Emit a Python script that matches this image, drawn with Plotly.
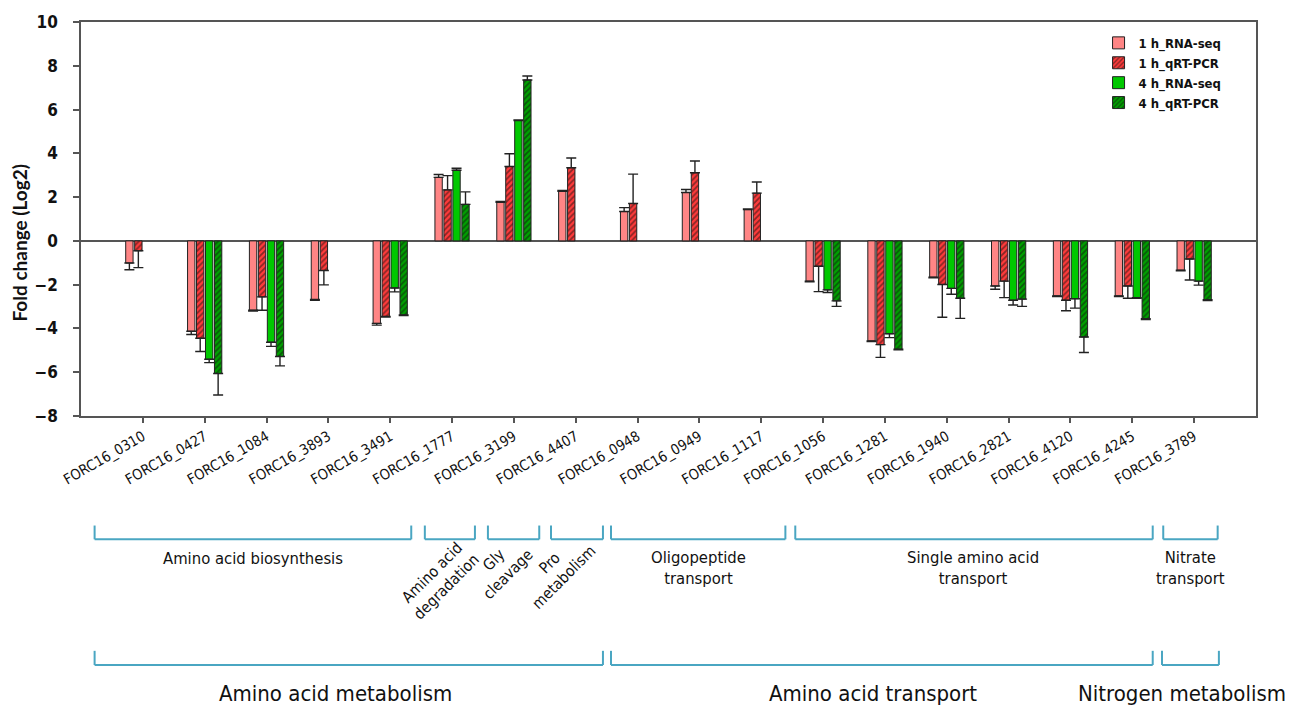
import plotly.graph_objects as go

categories = ["FORC16_0310", "FORC16_0427", "FORC16_1084", "FORC16_3893", "FORC16_3491",
              "FORC16_1777", "FORC16_3199", "FORC16_4407", "FORC16_0948", "FORC16_0949",
              "FORC16_1117", "FORC16_1056", "FORC16_1281", "FORC16_1940", "FORC16_2821",
              "FORC16_4120", "FORC16_4245", "FORC16_3789"]

rna_1h = [-1.01, -4.13, -3.17, -2.68, -3.77, 2.90, 1.76, 2.27, 1.34, 2.21, 1.43,
          -1.84, -4.57, -1.66, -2.06, -2.51, -2.51, -1.34]
rna_1h_err = [0.31, 0.15, 0.03, 0.03, 0.08, 0.13, 0.04, 0.03, 0.18, 0.14, 0.03,
              0.03, 0.03, 0.03, 0.15, 0.03, 0.03, 0.03]
qpcr_1h = [-0.45, -4.45, -2.56, -1.35, -3.45, 2.33, 3.40, 3.34, 1.71, 3.11, 2.18,
           -1.16, -4.74, -1.99, -1.84, -2.71, -2.06, -0.83]
qpcr_1h_err = [0.77, 0.60, 0.61, 0.66, 0.03, 0.65, 0.58, 0.45, 1.34, 0.54, 0.51,
               1.16, 0.58, 1.50, 0.75, 0.48, 0.56, 0.96]
rna_4h = [None, -5.41, -4.63, None, -2.15, 3.23, 5.50, None, None, None, None,
          -2.24, -4.24, -2.17, -2.71, -2.64, -2.59, -1.84]
rna_4h_err = [None, 0.15, 0.19, None, 0.18, 0.09, 0.03, None, None, None, None,
              0.12, 0.18, 0.27, 0.22, 0.43, 0.03, 0.18]
qpcr_4h = [None, -6.06, -5.28, None, -3.38, 1.67, 7.35, None, None, None, None,
           -2.74, -4.95, -2.62, -2.66, -4.39, -3.56, -2.69]
qpcr_4h_err = [None, 0.98, 0.43, None, 0.03, 0.57, 0.18, None, None, None, None,
               0.25, 0.03, 0.92, 0.33, 0.71, 0.03, 0.03]

series_names = ["1 h_RNA-seq", "1 h_qRT-PCR", "4 h_RNA-seq", "4 h_qRT-PCR"]

# functional sub-groups: (label, x-start, x-end in category units)
sub_groups = [
    ("Amino acid biosynthesis", -0.78, 4.34),
    ("Amino acid<br>degradation", 4.56, 5.37),
    ("Gly<br>cleavage", 5.58, 6.41),
    ("Pro<br>metabolism", 6.60, 7.44),
    ("Oligopeptide<br>transport", 7.57, 10.39),
    ("Single amino acid<br>transport", 10.55, 16.33),
    ("Nitrate<br>transport", 16.50, 17.38),
]
main_groups = [
    ("Amino acid metabolism", -0.78, 7.44),
    ("Amino acid transport", 7.57, 16.33),
    ("Nitrogen metabolism", 16.48, 17.40),
]

FONT = "DejaVu Sans Condensed, DejaVu Sans, sans-serif"


def err_arrays(vals, errs):
    up, down = [], []
    for v, e in zip(vals, errs):
        if v is None:
            up.append(None); down.append(None)
        elif v >= 0:
            up.append(e); down.append(0)
        else:
            up.append(0); down.append(e)
    return up, down


fig = go.Figure()
styles = [
    dict(color="#FF8585", pattern=None),
    dict(color="#FF3B3B", pattern=dict(shape="/", fgcolor="#111111", bgcolor="#FF3B3B",
                                       fillmode="overlay", size=4, solidity=0.45)),
    dict(color="#00C800", pattern=None),
    dict(color="#00A000", pattern=dict(shape="/", fgcolor="#111111", bgcolor="#00A000",
                                       fillmode="overlay", size=4, solidity=0.45)),
]
for name, vals, errs, st in zip(series_names,
                                [rna_1h, qpcr_1h, rna_4h, qpcr_4h],
                                [rna_1h_err, qpcr_1h_err, rna_4h_err, qpcr_4h_err],
                                styles):
    up, down = err_arrays(vals, errs)
    marker = dict(color=st["color"], line=dict(color="#222222", width=1))
    if st["pattern"]:
        marker["pattern"] = st["pattern"]
    fig.add_trace(go.Bar(
        x=categories, y=vals, name=name, marker=marker,
        error_y=dict(type="data", symmetric=False, array=up, arrayminus=down,
                     color="#222222", thickness=1.4, width=5),
    ))

shapes = []
annotations = []
row1_top, row1_bot = -0.278, -0.313
row2_top, row2_bot = -0.596, -0.632
bracket_color = "#4AA6C2"


def bracket(x0, x1, ytop, ybot):
    return [
        dict(type="line", xref="x", yref="paper", x0=x0, x1=x1, y0=ybot, y1=ybot,
             line=dict(color=bracket_color, width=2)),
        dict(type="line", xref="x", yref="paper", x0=x0, x1=x0, y0=ybot, y1=ytop,
             line=dict(color=bracket_color, width=2)),
        dict(type="line", xref="x", yref="paper", x0=x1, x1=x1, y0=ybot, y1=ytop,
             line=dict(color=bracket_color, width=2)),
    ]


for label, x0, x1 in sub_groups:
    shapes += bracket(x0, x1, row1_top, row1_bot)
for label, x0, x1 in main_groups:
    shapes += bracket(x0, x1, row2_top, row2_bot)

# sub-group label placement (x in category units, y in paper, angle, size)
label_pos = {
    "Amino acid biosynthesis": (1.78, -0.361, 0, 16.5),
    "Amino acid<br>degradation": (4.79, -0.416, -45, 15.5),
    "Gly<br>cleavage": (5.79, -0.382, -45, 15.5),
    "Pro<br>metabolism": (6.70, -0.392, -45, 15.5),
    "Oligopeptide<br>transport": (8.98, -0.386, 0, 16.5),
    "Single amino acid<br>transport": (13.43, -0.386, 0, 16.5),
    "Nitrate<br>transport": (16.94, -0.386, 0, 16.5),
}
for label, x0, x1 in sub_groups:
    xp, yp, ang, sz = label_pos[label]
    annotations.append(dict(x=xp, y=yp, xref="x", yref="paper", text=label, showarrow=False,
                            textangle=ang, font=dict(family=FONT, size=sz, color="#111111"),
                            xanchor="center", yanchor="middle", align="center"))
main_pos = [3.11, 11.80, 16.80]
for (label, x0, x1), xp in zip(main_groups, main_pos):
    annotations.append(dict(x=xp, y=-0.704, xref="x", yref="paper", text=label, showarrow=False,
                            font=dict(family=FONT, size=22, color="#111111"),
                            xanchor="center", yanchor="middle"))

# y-axis title
annotations.append(dict(x=-0.052, y=0.44, xref="paper", yref="paper", text="Fold change (Log2)",
                        showarrow=False, textangle=-90, xanchor="center", yanchor="middle",
                        font=dict(family="Lato, Open Sans, sans-serif", size=19, color="#111111",
                                  weight="bold")))

fig.update_layout(
    width=1295, height=714,
    margin=dict(l=81, r=39, t=17, b=298),
    plot_bgcolor="white", paper_bgcolor="white",
    barmode="group", bargap=0.42, bargroupgap=0.18,
    font=dict(family=FONT, color="#111111"),
    shapes=shapes, annotations=annotations,
    legend=dict(x=0.866, y=0.985, xanchor="left", yanchor="top",
                font=dict(family=FONT, size=13, color="#111111", weight="bold"),
                bgcolor="rgba(0,0,0,0)", tracegroupgap=0),
    xaxis=dict(type="category", range=[-1, 18], showline=True, linecolor="#555555", linewidth=1.5,
               mirror=True, ticks="outside", ticklen=5, tickcolor="#555555", tickwidth=1.5,
               tickangle=-30, tickfont=dict(family=FONT, size=14.5, color="#111111"),
               showgrid=False),
    yaxis=dict(range=[-8, 10], dtick=2, showline=True, linecolor="#555555", linewidth=1.5,
               mirror=True, ticks="outside", ticklen=6, tickcolor="#555555", tickwidth=1.5,
               ticklabelstandoff=12,
               tickfont=dict(family=FONT, size=17, color="#111111", weight="bold"),
               showgrid=False, zeroline=True, zerolinecolor="#555555", zerolinewidth=1.5),
)

fig.write_html("out.html")
